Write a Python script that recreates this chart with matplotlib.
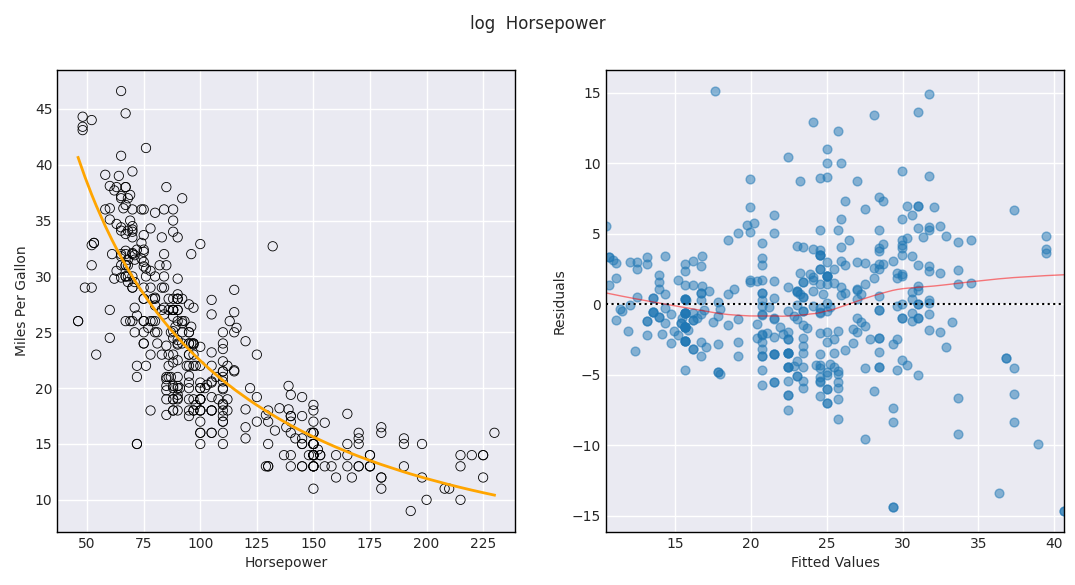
import numpy as np
import matplotlib
matplotlib.use('Agg')
import matplotlib.pyplot as plt

# Auto data: horsepower vs miles per gallon
horsepower = [
    130, 165, 150, 150, 140, 198, 220, 215, 225, 190,
    170, 160, 150, 225, 95, 95, 97, 85, 88, 46,
    87, 90, 95, 113, 90, 215, 200, 210, 193, 88,
    90, 95, 100, 105, 100, 88, 100, 165, 175, 153,
    150, 180, 170, 175, 110, 72, 100, 88, 86, 90,
    70, 76, 65, 69, 60, 70, 95, 80, 54, 90,
    86, 165, 175, 150, 153, 150, 208, 155, 160, 190,
    97, 150, 130, 140, 150, 112, 76, 87, 69, 86,
    92, 97, 80, 88, 175, 150, 145, 137, 150, 198,
    150, 158, 150, 215, 225, 175, 105, 100, 100, 88,
    95, 46, 150, 167, 170, 180, 100, 88, 72, 94,
    90, 85, 107, 90, 145, 230, 49, 75, 91, 112,
    150, 110, 122, 180, 95, 100, 100, 67, 80, 65,
    75, 100, 110, 105, 140, 150, 150, 140, 150, 83,
    67, 78, 52, 61, 75, 75, 75, 97, 93, 67,
    95, 105, 72, 72, 170, 145, 150, 148, 110, 105,
    110, 95, 110, 110, 129, 75, 83, 100, 78, 96,
    71, 97, 97, 70, 90, 95, 88, 98, 115, 53,
    86, 81, 92, 79, 83, 140, 150, 120, 152, 100,
    105, 81, 90, 52, 60, 70, 53, 100, 78, 110,
    95, 71, 70, 75, 72, 102, 150, 88, 108, 120,
    180, 145, 130, 150, 68, 80, 58, 96, 70, 145,
    110, 145, 130, 110, 105, 100, 98, 180, 170, 190,
    149, 78, 88, 75, 89, 63, 83, 67, 78, 97,
    110, 110, 48, 66, 52, 70, 60, 110, 140, 139,
    105, 95, 85, 88, 100, 90, 105, 85, 110, 120,
    145, 165, 139, 140, 68, 95, 97, 75, 95, 105,
    85, 97, 103, 125, 115, 133, 71, 68, 115, 85,
    88, 90, 110, 130, 129, 138, 135, 155, 142, 125,
    150, 71, 65, 80, 80, 77, 125, 71, 90, 70,
    70, 65, 69, 90, 115, 115, 90, 76, 60, 70,
    65, 90, 88, 90, 90, 78, 90, 75, 92, 75,
    65, 105, 65, 48, 48, 67, 67, 67, 67, 62,
    132, 100, 88, 72, 84, 84, 92, 110, 84, 58,
    64, 60, 67, 65, 62, 68, 63, 65, 65, 74,
    75, 75, 100, 74, 80, 76, 116, 120, 110, 105,
    88, 85, 88, 88, 88, 85, 84, 90, 92, 74,
    68, 68, 63, 70, 88, 75, 70, 67, 67, 67,
    110, 85, 92, 112, 96, 84, 90, 86, 52, 84,
    79, 82,
]

mpg = [
    18, 15, 18, 16, 17, 15, 14, 14, 14, 15,
    15, 14, 15, 14, 24, 22, 18, 21, 27, 26,
    25, 24, 25, 26, 21, 10, 10, 11, 9, 27,
    28, 25, 19, 16, 17, 19, 18, 14, 14, 14,
    14, 12, 13, 13, 18, 22, 19, 18, 23, 28,
    30, 30, 31, 35, 27, 26, 24, 25, 23, 20,
    21, 13, 14, 15, 14, 17, 11, 13, 12, 13,
    19, 15, 13, 13, 14, 18, 22, 21, 26, 22,
    28, 23, 28, 27, 13, 14, 13, 14, 15, 12,
    13, 13, 14, 13, 12, 13, 18, 16, 18, 18,
    23, 26, 11, 12, 13, 12, 18, 20, 21, 22,
    18, 19, 21, 26, 15, 16, 29, 24, 20, 19,
    15, 24, 20, 11, 20, 19, 15, 31, 26, 32,
    25, 16, 16, 18, 16, 13, 14, 14, 14, 29,
    26, 26, 31, 32, 28, 24, 26, 24, 26, 31,
    19, 18, 15, 15, 16, 15, 16, 14, 17, 16,
    15, 18, 21, 20, 13, 29, 23, 20, 23, 24,
    25, 24, 18, 29, 19, 23, 23, 22, 25, 33,
    28, 25, 25, 26, 27, 17.5, 16, 15.5, 14.5, 22,
    22, 24, 22.5, 29, 24.5, 29, 33, 20, 18, 18.5,
    17.5, 29.5, 32, 28, 26.5, 20, 13, 19, 19, 16.5,
    16.5, 13, 13, 13, 31.5, 30, 36, 25.5, 33.5, 17.5,
    17, 15.5, 15, 17.5, 20.5, 19, 18.5, 16, 15.5, 15.5,
    16, 29, 24.5, 26, 25.5, 30.5, 33.5, 30, 30.5, 22,
    21.5, 21.5, 43.1, 36.1, 32.8, 39.4, 36.1, 19.9, 19.4, 20.2,
    19.2, 20.5, 20.2, 25.1, 20.5, 19.4, 20.6, 20.8, 18.6, 18.1,
    19.2, 17.7, 18.1, 17.5, 30, 27.5, 27.2, 30.9, 21.1, 23.2,
    23.8, 23.9, 20.3, 17, 21.6, 16.2, 31.5, 29.5, 21.5, 19.8,
    22.3, 20.2, 20.6, 17, 17.6, 16.5, 18.2, 16.9, 15.5, 19.2,
    18.5, 31.9, 34.1, 35.7, 27.4, 25.4, 23, 27.2, 23.9, 34.2,
    34.5, 31.8, 37.3, 28.4, 28.8, 26.8, 33.5, 41.5, 38.1, 32.1,
    37.2, 28, 26.4, 24.3, 19.1, 34.3, 29.8, 31.3, 37, 32.2,
    46.6, 27.9, 40.8, 44.3, 43.4, 36.4, 30, 44.6, 33.8, 29.8,
    32.7, 23.7, 35, 32.4, 27.2, 26.6, 25.8, 23.5, 30, 39.1,
    39, 35.1, 32.3, 37, 37.7, 34.1, 34.7, 34.4, 29.9, 33,
    33.7, 32.4, 32.9, 31.6, 28.1, 30.7, 25.4, 24.2, 22.4, 26.6,
    20.2, 17.6, 28, 27, 34, 31, 29, 27, 24, 36,
    37, 31, 38, 36, 36, 36, 34, 38, 32, 38,
    25, 38, 26, 22, 32, 36, 27, 27, 44, 32,
    28, 31,
]


def lowess(x, y, frac=2 / 3, it=3):
    # plain Cleveland lowess (local linear, tricube, bisquare robustness)
    order = np.argsort(x)
    x = np.asarray(x, float)[order]
    y = np.asarray(y, float)[order]
    n = len(x)
    r = int(np.ceil(frac * n))
    dist = np.abs(x[:, None] - x[None, :])
    h = np.sort(dist, axis=1)[:, r - 1]
    w = np.clip(dist / np.maximum(h[:, None], 1e-12), 0, 1)
    w = (1 - w ** 3) ** 3
    delta = np.ones(n)
    yest = np.zeros(n)
    for _ in range(it + 1):
        for i in range(n):
            wi = w[i] * delta
            sw = wi.sum()
            mx = (wi * x).sum() / sw
            my = (wi * y).sum() / sw
            sxx = (wi * (x - mx) ** 2).sum()
            b = (wi * (x - mx) * (y - my)).sum() / sxx if sxx > 0 else 0.0
            yest[i] = my + b * (x[i] - mx)
        res = y - yest
        s = np.median(np.abs(res))
        delta = np.clip(res / (6.0 * s), -1, 1)
        delta = (1 - delta ** 2) ** 2
    return x, yest


hp = np.array(horsepower, float)
y = np.array(mpg, float)

# mpg regressed on a quadratic in log(horsepower)
coef = np.polyfit(np.log(hp), y, 2)
fitted = np.polyval(coef, np.log(hp))
resid = y - fitted
order = np.argsort(hp)

plt.rcParams.update({
    'font.family': 'DejaVu Sans',
    'font.size': 10,
    'axes.facecolor': '#EAEAF2',
    'axes.edgecolor': 'black',
    'axes.linewidth': 1.0,
    'axes.grid': True,
    'grid.color': 'white',
    'grid.linewidth': 1.0,
    'axes.axisbelow': True,
    'xtick.major.size': 0,
    'ytick.major.size': 0,
    'xtick.color': '#262626',
    'ytick.color': '#262626',
    'axes.labelcolor': '#262626',
    'text.color': '#262626',
})

fig = plt.figure(figsize=(10.75, 5.85), dpi=100)
ax1 = fig.add_axes([0.0533, 0.0906, 0.426, 0.7897])
ax2 = fig.add_axes([0.5637, 0.0906, 0.426, 0.7897])

# left: data with fitted curve
ax1.scatter(hp, y, s=45, facecolors='none', edgecolors='black', linewidths=0.6)
ax1.plot(hp[order], fitted[order], color='orange', linewidth=2)
ax1.set_xlabel('Horsepower')
ax1.set_ylabel('Miles Per Gallon')

# right: residuals vs fitted
ax2.scatter(fitted, resid, s=40, color='#1f77b4', alpha=0.5)
lx, ly = lowess(fitted, resid)
ax2.plot(lx, ly, color='red', linewidth=1, alpha=0.5)
ax2.axhline(0, linestyle=':', color='black', linewidth=1.5)
ax2.set_xlim(fitted.min(), fitted.max())
ax2.set_xlabel('Fitted Values')
ax2.set_ylabel('Residuals')

fig.suptitle('log  Horsepower', fontsize=12, y=0.975)

fig.savefig('out.png', dpi=100, facecolor='white')
plt.close(fig)
